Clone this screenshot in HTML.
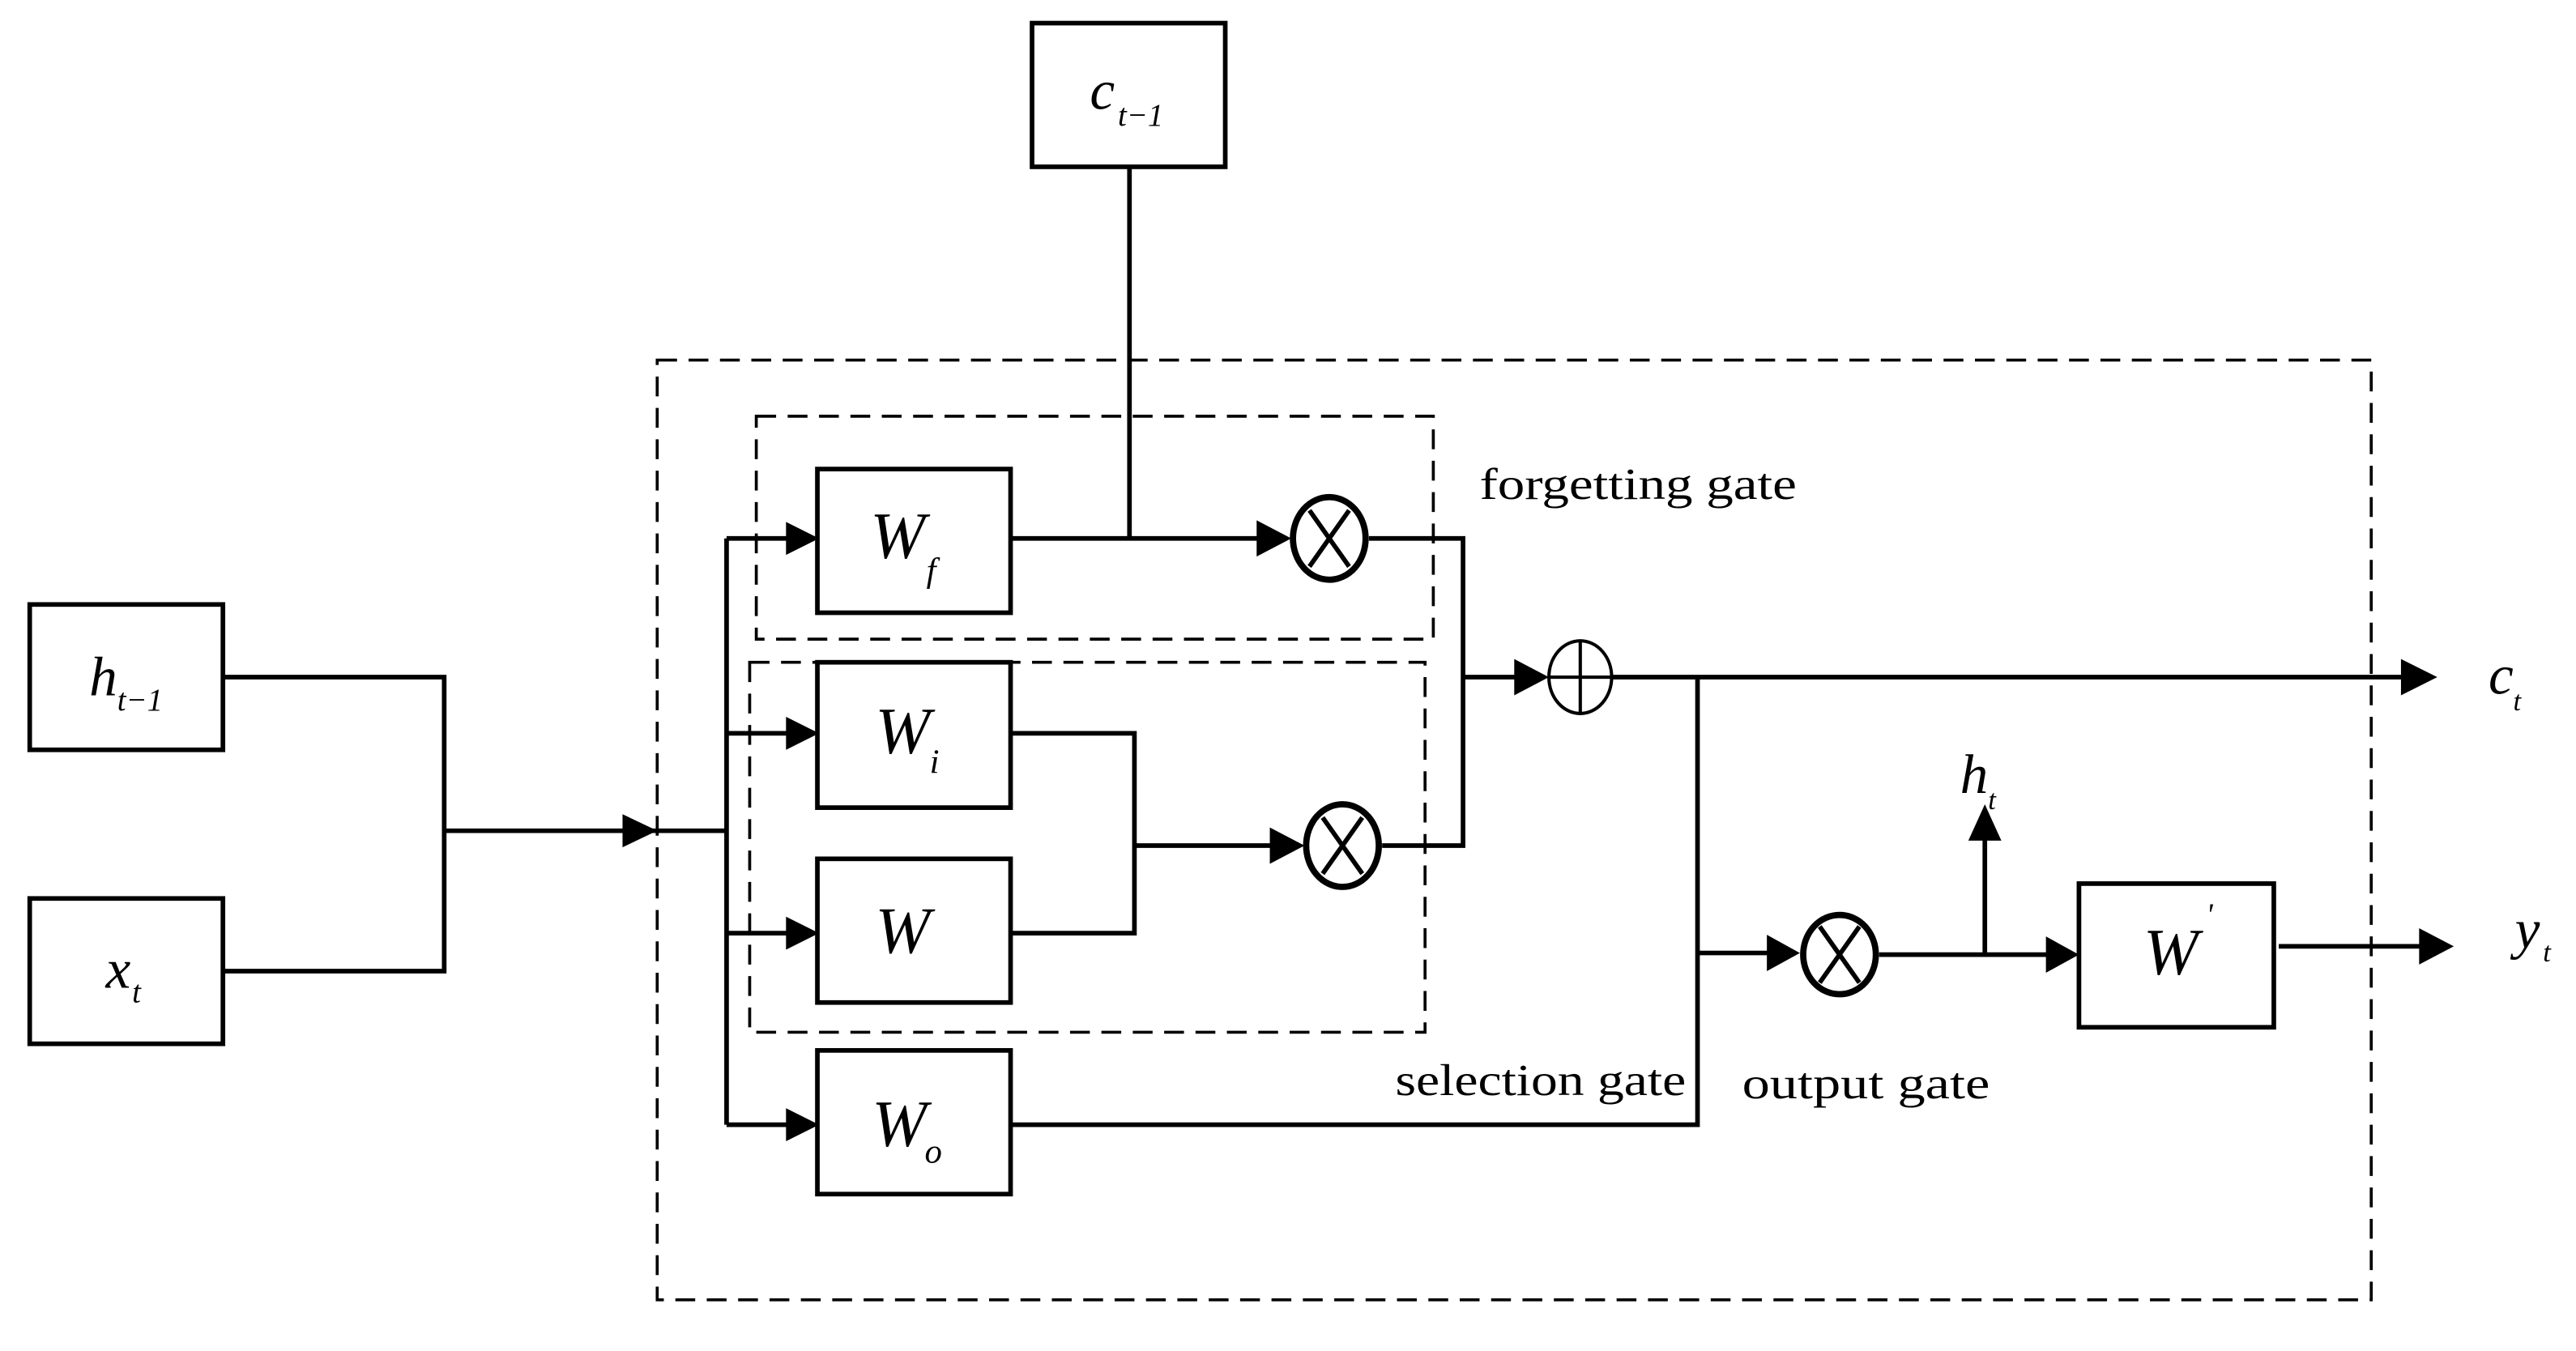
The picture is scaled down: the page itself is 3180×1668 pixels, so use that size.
<!DOCTYPE html>
<html><head><meta charset="utf-8"><style>
html,body{margin:0;padding:0;background:#fff;}
svg{display:block;}
text{font-family:"Liberation Serif",serif;fill:#000;}
.m{font-style:italic;}
</style></head><body>
<svg width="3180" height="1668" viewBox="0 0 1560 818" preserveAspectRatio="none" xmlns="http://www.w3.org/2000/svg">
<g fill="none" stroke="#000" stroke-width="1.8" stroke-dasharray="12,7">
<rect x="398" y="218" width="1038" height="569"/>
<rect x="458" y="252" width="410" height="135"/>
<rect x="454" y="401" width="409" height="224"/>
</g>
<g fill="#fff" stroke="#000" stroke-width="2.8">
<rect x="625" y="14" width="117" height="87"/>
<rect x="18" y="366" width="117" height="88"/>
<rect x="18" y="544" width="117" height="88"/>
<rect x="495" y="284" width="117" height="87"/>
<rect x="495" y="401" width="117" height="88"/>
<rect x="495" y="520" width="117" height="87"/>
<rect x="495" y="636" width="117" height="87"/>
<rect x="1259" y="535" width="118" height="87"/>
</g>
<g fill="none" stroke="#000" stroke-width="2.8">
<path d="M684 101V326"/>
<path d="M135 410H269V588H135M269 503H440"/>
<path d="M440 326V681M440 326H480M440 444H480M440 565H480M440 681H480"/>
<path d="M612 326H766M829 326H886V512H837M886 410H925M976 410H1460"/>
<path d="M612 444H687V565H612M687 512H776"/>
<path d="M612 681H1028V410M1028 577H1076M1138 578H1244M1202 578V506M1380 573H1470"/>
<ellipse cx="805" cy="326" rx="22" ry="25" stroke-width="3.8"/>
<path d="M793 309L817 343M817 309L793 343"/>
<ellipse cx="813" cy="512" rx="22" ry="25" stroke-width="3.8"/>
<path d="M801 495L825 529M825 495L801 529"/>
<ellipse cx="1114" cy="578" rx="22" ry="24" stroke-width="3.8"/>
<path d="M1102 561L1126 595M1126 561L1102 595"/>
<ellipse cx="957" cy="410" rx="19" ry="22" stroke-width="2"/>
<path d="M957 388V432M938 410H976" stroke-width="2"/>
</g>
<g fill="#000">
<path d="M377 493L398 503L377 513Z"/>
<path d="M476 316L496 326L476 336Z"/>
<path d="M476 434L496 444L476 454Z"/>
<path d="M476 555L496 565L476 575Z"/>
<path d="M476 671L496 681L476 691Z"/>
<path d="M761 315L782 326L761 337Z"/>
<path d="M769 501L790 512L769 523Z"/>
<path d="M917 399L938 410L917 421Z"/>
<path d="M1454 399L1476 410L1454 421Z"/>
<path d="M1070 566L1090 577L1070 588Z"/>
<path d="M1239 567L1259 578L1239 589Z"/>
<path d="M1192 509L1202 487L1212 509Z"/>
<path d="M1465 562L1486 573L1465 584Z"/>
</g>
<text x="660" y="66" font-size="34" class="m">c</text><text x="677" y="76" font-size="19" class="m">t−1</text>
<text x="54" y="421" font-size="34" class="m">h</text><text x="71" y="430" font-size="19" class="m">t−1</text>
<text x="64" y="598" font-size="34" class="m">x</text><text x="80" y="607" font-size="19" class="m">t</text>
<text x="527" y="338" font-size="40" class="m">W</text><text x="561" y="352" font-size="21" class="m">f</text>
<text x="530" y="456" font-size="40" class="m">W</text><text x="563" y="468" font-size="21" class="m">i</text>
<text x="530" y="577" font-size="40" class="m">W</text>
<text x="528" y="694" font-size="40" class="m">W</text><text x="560" y="704" font-size="21" class="m">o</text>
<text x="1298" y="590" font-size="40" class="m">W</text><text x="1336" y="560" font-size="19" class="m">'</text>
<text x="1507" y="420" font-size="34" class="m">c</text><text x="1522" y="430" font-size="17" class="m">t</text>
<text x="1187" y="480" font-size="34" class="m">h</text><text x="1204" y="490" font-size="17" class="m">t</text>
<text x="1523" y="574" font-size="34" class="m">y</text><text x="1540" y="582" font-size="17" class="m">t</text>
<text x="896" y="302" font-size="27" textLength="192" lengthAdjust="spacingAndGlyphs">forgetting gate</text>
<text x="845" y="663" font-size="27" textLength="176" lengthAdjust="spacingAndGlyphs">selection gate</text>
<text x="1055" y="665" font-size="27" textLength="150" lengthAdjust="spacingAndGlyphs">output gate</text>
</svg>
</body></html>
